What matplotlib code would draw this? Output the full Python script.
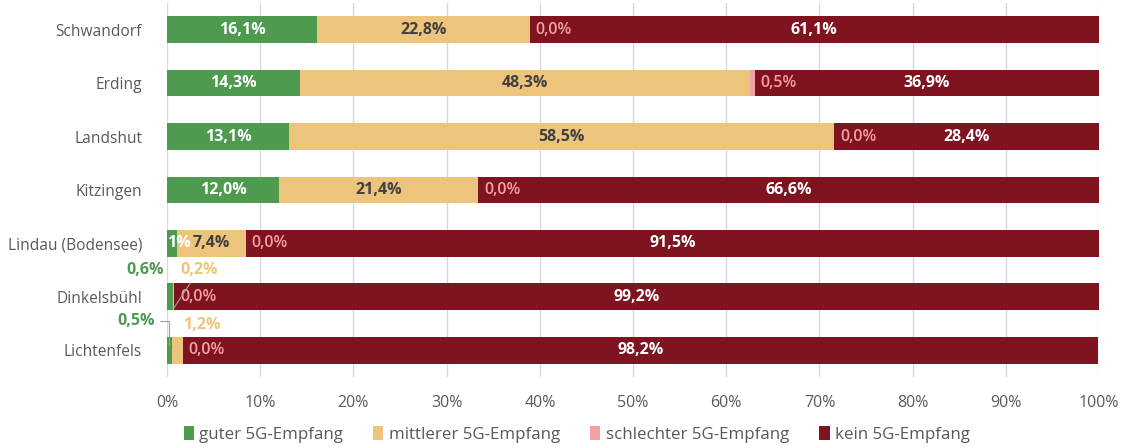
import matplotlib.pyplot as plt
import numpy as np

plt.rcParams['font.family'] = ['Open Sans', 'DejaVu Sans']

# data: share of area by 5G reception quality, in percent
regions = ['Schwandorf', 'Erding', 'Landshut', 'Kitzingen',
           'Lindau (Bodensee)', 'Dinkelsbühl', 'Lichtenfels']
guter      = [16.1, 14.3, 13.1, 12.0, 1.1, 0.6, 0.5]
mittlerer  = [22.8, 48.3, 58.5, 21.4, 7.4, 0.2, 1.2]
schlechter = [0.0, 0.5, 0.0, 0.0, 0.0, 0.0, 0.0]
kein       = [61.1, 36.9, 28.4, 66.6, 91.5, 99.2, 98.2]

series_names = ['guter 5G-Empfang', 'mittlerer 5G-Empfang',
                'schlechter 5G-Empfang', 'kein 5G-Empfang']
colors = ['#4e9a4f', '#edc47b', '#f3a1a1', '#7f1320']

def pct(v):
    return f'{v:.1f}%'.replace('.', ',')

fs = 11.5

fig = plt.figure(figsize=(11.24, 4.48), dpi=100)
ax = fig.add_axes([0.1486, 0.1585, 0.8292, 0.8348])

y = np.arange(len(regions))
data = [guter, mittlerer, schlechter, kein]
left = np.zeros(len(regions))
for vals, col, name in zip(data, colors, series_names):
    ax.barh(y, vals, left=left, height=0.5, color=col, label=name, zorder=3)
    left += np.array(vals)

# value labels
small = {'Dinkelsbühl', 'Lichtenfels'}
for i, r in enumerate(regions):
    g, m, s, k = guter[i], mittlerer[i], schlechter[i], kein[i]
    if r not in small:
        if r == 'Lindau (Bodensee)':
            ax.text(0.05, i, '1%', color='white', fontweight='bold',
                    fontsize=fs, ha='left', va='center', zorder=5)
        else:
            ax.text(g / 2, i, pct(g), color='white', fontweight='bold',
                    fontsize=fs, ha='center', va='center', zorder=5)
        ax.text(g + m / 2, i, pct(m), color='#404040', fontweight='bold',
                fontsize=fs, ha='center', va='center', zorder=5)
    ax.text(g + m + s + 0.6, i, pct(s), color='#f3a1a1', fontsize=fs,
            fontweight='semibold', ha='left', va='center', zorder=5)
    ax.text(g + m + s + k / 2, i, pct(k), color='white', fontweight='bold',
            fontsize=fs, ha='center', va='center', zorder=5)

# outside labels with leader lines for the narrow segments
i = regions.index('Dinkelsbühl')
ax.text(-0.3, i - 0.5, pct(guter[i]), color='#4e9a4f', fontweight='bold',
        fontsize=fs, ha='right', va='center', clip_on=False)
ax.annotate(pct(mittlerer[i]), xy=(guter[i] + mittlerer[i] / 2, i + 0.22),
            xytext=(1.4, i - 0.5), color='#edc47b', fontweight='bold',
            fontsize=fs, ha='left', va='center', zorder=6,
            arrowprops=dict(arrowstyle='-', color='#a0a0a0', lw=0.8,
                            shrinkA=2, shrinkB=0))
i = regions.index('Lichtenfels')
ax.annotate(pct(guter[i]), xy=(guter[i] / 2, i - 0.1),
            xytext=(-1.3, i - 0.55), color='#4e9a4f', fontweight='bold',
            fontsize=fs, ha='right', va='center', zorder=6,
            annotation_clip=False,
            arrowprops=dict(arrowstyle='-', color='#a0a0a0', lw=0.8,
                            connectionstyle='angle,angleA=0,angleB=90,rad=0',
                            shrinkA=2, shrinkB=0))
ax.text(1.7, i - 0.48, pct(mittlerer[i]), color='#edc47b', fontweight='bold',
        fontsize=fs, ha='left', va='center')

ax.set_xlim(0, 100)
ax.set_ylim(len(regions) - 0.5, -0.5)
ax.set_xticks(np.arange(0, 101, 10))
ax.set_xticklabels([f'{v}%' for v in range(0, 101, 10)])
ax.set_yticks(y)
ax.set_yticklabels(regions)
ax.tick_params(axis='x', length=0, colors='#595959', labelsize=11.5, pad=13)
ax.tick_params(axis='y', length=0, colors='#595959', labelsize=11.2, pad=18)
ax.grid(axis='x', color='#d9d9d9', lw=1, zorder=0)
for sp in ax.spines.values():
    sp.set_visible(False)

leg = fig.legend(loc='lower center', bbox_to_anchor=(0.513, -0.022), ncol=4,
                 frameon=False, fontsize=12.2, handlelength=0.6,
                 handleheight=0.9, handletextpad=0.3, columnspacing=1.8)
for t in leg.get_texts():
    t.set_color('#595959')

fig.savefig('out.png', dpi=100)
